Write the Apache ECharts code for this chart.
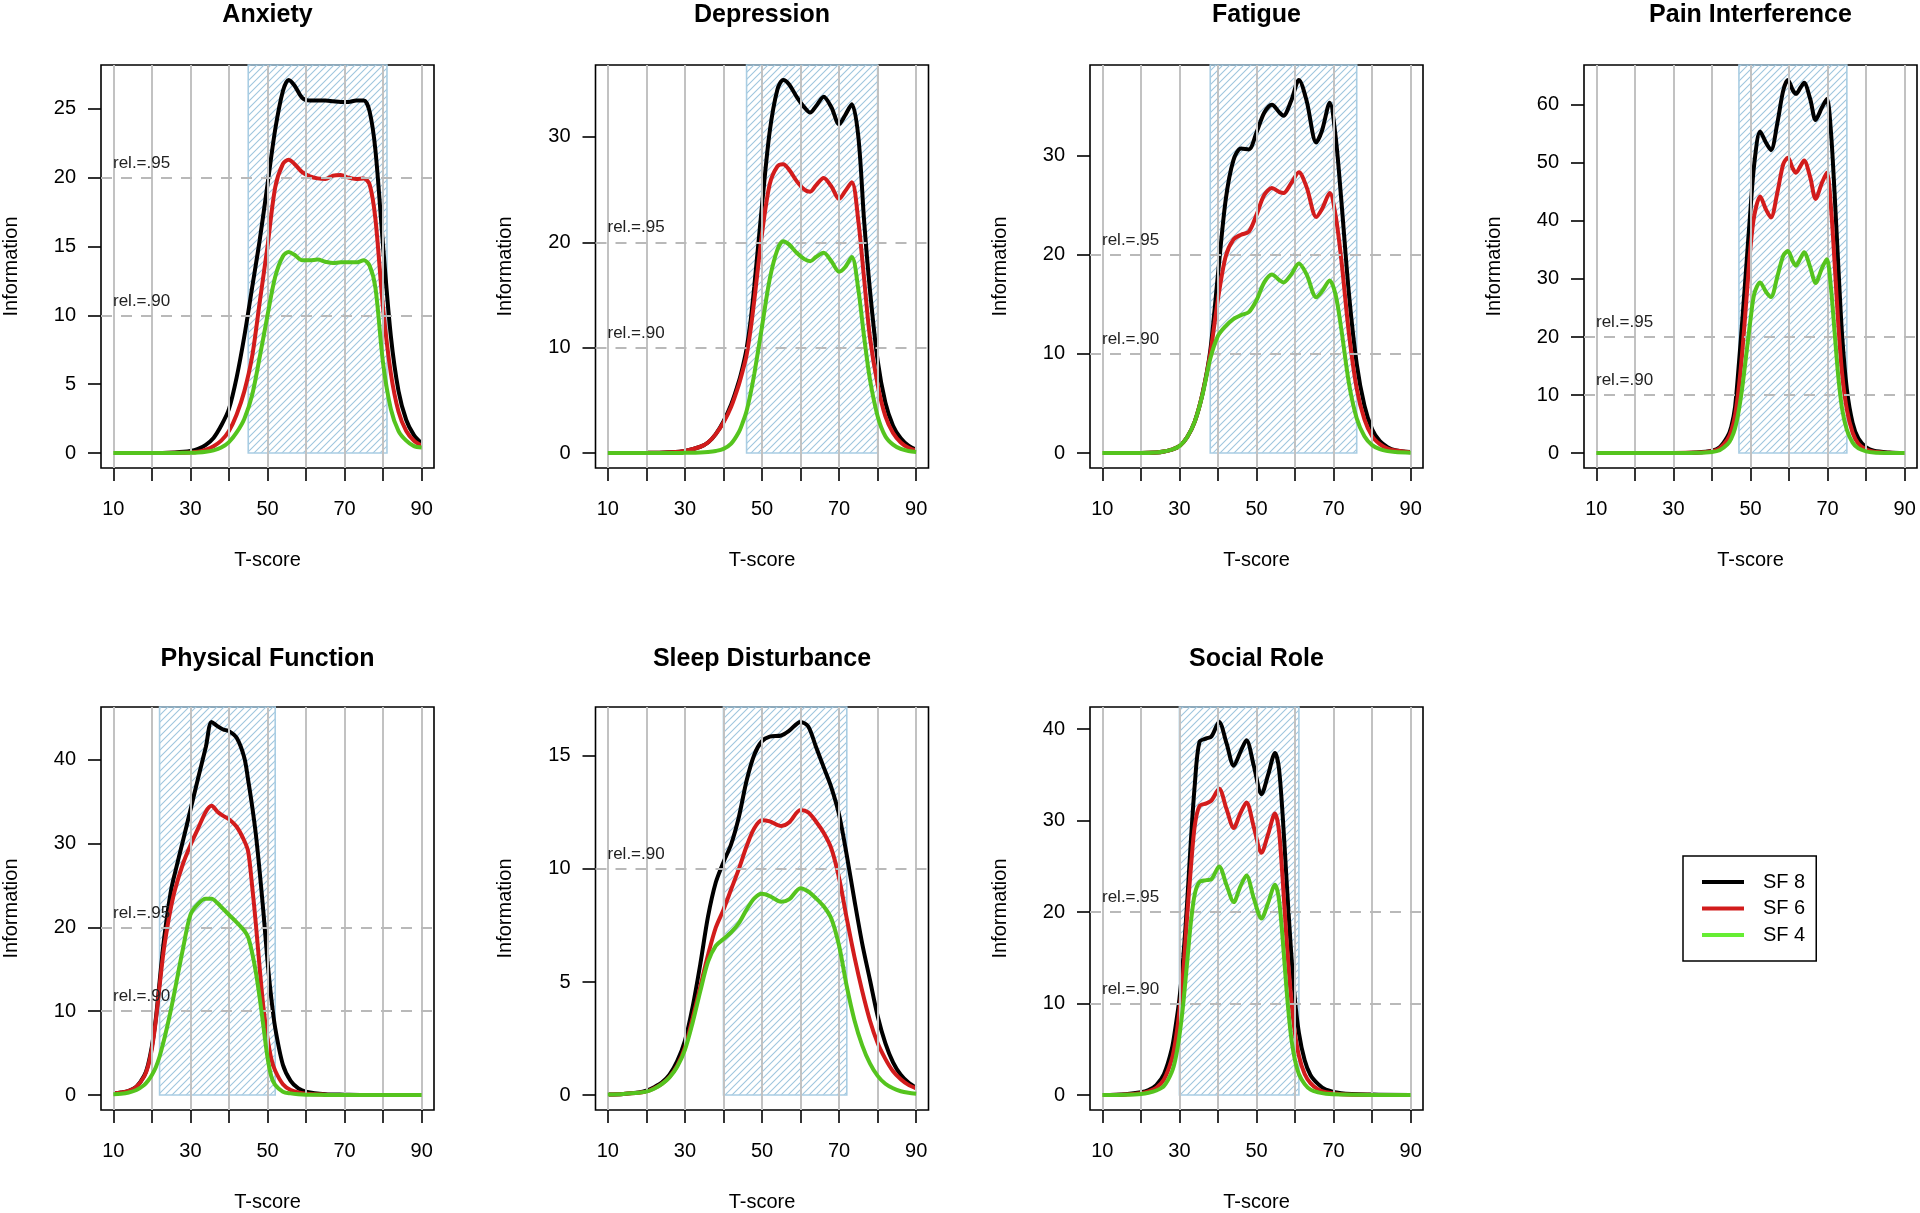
<!DOCTYPE html>
<html><head><meta charset="utf-8">
<script src="https://cdn.jsdelivr.net/npm/echarts@6/dist/echarts.min.js"></script>
<style>html,body{margin:0;padding:0;background:#fff}#c{width:1920px;height:1213px}</style>
</head><body><div id="c"></div>
<script>
// ---------------- DATA ----------------
const seriesNames = ['SF 8', 'SF 6', 'SF 4'];
const xTicks = [10, 20, 30, 40, 50, 60, 70, 80, 90];
const xTickLabels = [10, 30, 50, 70, 90];

const anxietyT   = [10,20,26,30,32,34,36,38,40,42,44,46,48,50,52,54,55.5,57,59,61,63,65,67,69,71,73,75,76.5,78,80,82,84,86,88,90];
const anxietySF8 = [0,0,0.05,0.15,0.3,0.6,1.1,2.0,3.2,5.5,8.5,12.0,15.5,19.5,23.5,26.3,27.1,26.7,25.8,25.6,25.6,25.6,25.55,25.5,25.5,25.6,25.6,24.8,22.0,15.0,8.5,4.5,2.4,1.3,0.7];
const anxietySF6 = [0,0,0.02,0.05,0.1,0.25,0.5,0.9,1.6,2.8,4.5,7.0,11.0,15.0,19.3,21.0,21.3,21.0,20.4,20.1,19.95,19.9,20.15,20.2,20.0,19.9,19.95,19.5,17.0,10.5,5.8,3.0,1.6,0.9,0.55];
const anxietySF4 = [0,0,0.01,0.03,0.05,0.1,0.2,0.4,0.8,1.5,2.5,4.2,7.0,10.0,12.8,14.3,14.6,14.4,14.0,14.0,14.05,13.9,13.8,13.85,13.85,13.85,14.0,13.6,12.0,6.5,3.2,1.6,0.9,0.5,0.4];
const anxietyBand = [45, 81];
const anxietyYTicks = [0, 5, 10, 15, 20, 25];

const depressionT   = [10,20,26,30,34,36,38,40,42,44,45,46,47,48,50,52,54,55.5,57,59,61,62.5,64,66,68,70,71.5,73.3,75,76.5,78,80,82,84,86,88,90];
const depressionSF8 = [0,0.02,0.08,0.2,0.6,1.0,1.8,3.0,4.6,6.8,8.2,9.9,12.4,15.8,23.5,30.5,34.5,35.4,35.0,33.8,32.8,32.3,32.9,33.8,32.8,31.2,32.0,33.1,30.0,22.0,15.5,8.8,4.8,2.6,1.4,0.7,0.3];
const depressionSF6 = [0,0.02,0.08,0.2,0.6,1.0,1.8,2.9,4.4,6.5,7.8,9.3,11.6,14.5,20.8,25.5,27.2,27.4,26.9,25.8,25.0,24.8,25.4,26.1,25.3,24.1,24.8,25.7,22.0,16.5,11.0,6.5,3.5,1.9,1.0,0.5,0.25];
const depressionSF4 = [0,0,0,0.02,0.05,0.1,0.2,0.4,0.9,2.0,2.9,4.0,5.6,7.5,12.0,16.5,19.3,20.1,19.8,19.0,18.4,18.2,18.6,19.0,18.2,17.2,17.6,18.6,15.5,11.0,7.0,3.5,1.6,0.8,0.4,0.2,0.1];
const depressionBand = [46, 80];
const depressionYTicks = [0, 10, 20, 30];

const fatigueT   = [10,20,24,26,28,30,32,34,36,38,40,42,44,46,48,50,52,54,56,57,59,61,63,65.5,67,69,70.5,72,74,76,78,80,82,84,86,90];
const fatigueSF8 = [0,0,0.05,0.15,0.35,0.7,1.6,3.2,6.0,10.3,18.0,25.5,29.5,30.7,30.6,32.3,34.3,35.1,34.3,34.0,35.5,37.6,35.5,31.3,32.5,35.3,32.0,25.5,16.0,9.0,4.8,2.4,1.2,0.6,0.3,0.1];
const fatigueSF6 = [0,0,0.05,0.15,0.35,0.7,1.6,3.2,6.0,10.0,15.5,19.8,21.5,22.0,22.3,24.0,26.0,26.7,26.3,26.2,27.2,28.3,26.8,23.8,24.6,26.2,24.0,19.5,12.0,6.5,3.4,1.7,0.9,0.45,0.25,0.08];
const fatigueSF4 = [0,0,0.05,0.15,0.35,0.7,1.6,3.2,5.9,9.5,11.8,12.8,13.5,13.9,14.2,15.4,17.2,18.0,17.4,17.2,18.0,19.1,18.0,15.7,16.3,17.4,16.0,12.5,7.0,3.5,1.7,0.8,0.4,0.2,0.1,0.03];
const fatigueBand = [38, 76];
const fatigueYTicks = [0, 10, 20, 30];

const painT   = [10,20,30,36,40,42,44,45,46,47,48,49,50,51,52.5,54,55.3,57,58.5,59.7,61,61.8,63,63.9,65.5,66.9,68.5,69.8,70.8,71.8,72.8,73.8,75,76.5,78,80,82,86,90];
const painSF8 = [0,0,0,0.1,0.4,1.0,2.8,4.5,8.0,15.5,24.0,33.0,42.0,50.0,55.4,53.5,52.2,57.0,62.5,64.3,62.5,61.9,63.0,63.8,61.0,57.4,59.5,61.0,56.0,45.0,32.0,20.0,11.0,5.2,2.5,1.0,0.4,0.1,0];
const painSF6 = [0,0,0,0.08,0.3,0.8,2.3,3.8,6.5,11.5,18.5,27.0,35.5,41.0,44.2,42.0,40.6,45.0,49.8,50.9,49.0,48.3,49.5,50.4,47.5,43.8,46.5,48.3,43.0,33.0,22.0,13.5,7.5,3.5,1.6,0.6,0.25,0.05,0];
const painSF4 = [0,0,0,0.05,0.2,0.5,1.5,2.5,4.3,7.5,12.0,17.5,23.0,27.5,29.4,27.8,26.9,30.5,34.0,34.8,33.0,32.3,33.6,34.6,32.0,29.3,31.8,33.4,29.0,21.0,13.0,7.5,4.0,1.8,0.8,0.3,0.1,0.02,0];
const painBand = [47, 75];
const painYTicks = [0, 10, 20, 30, 40, 50, 60];

const physicalT   = [10,12,14,16,18,19,20,21,22,23,24,25,26,28,30,32,34,35.5,37,38.5,40,42,44,45,46,47,48,49,50,51,52,54,56,58,60,65,70,80,90];
const physicalSF8 = [0.2,0.3,0.5,1.0,2.3,3.6,5.8,9.0,13.5,18.0,21.5,24.5,26.5,30.2,34.0,37.8,41.5,44.5,44.0,43.6,43.4,42.6,40.2,37.5,34.5,31.0,26.5,21.5,16.0,11.5,8.0,3.6,1.7,0.8,0.4,0.1,0.05,0,0];
const physicalSF6 = [0.2,0.3,0.5,1.0,2.2,3.4,5.5,8.8,13.0,17.0,20.0,22.5,24.5,27.5,29.8,31.8,33.8,34.5,33.8,33.3,32.9,32.0,30.3,29.0,25.0,20.3,15.0,10.2,6.8,4.3,2.9,1.3,0.6,0.3,0.15,0.05,0,0,0];
const physicalSF4 = [0.1,0.15,0.3,0.6,1.2,1.7,2.4,3.3,4.6,6.3,8.2,10.3,12.6,17.3,21.5,22.8,23.4,23.4,22.9,22.2,21.5,20.6,19.6,18.8,17.0,14.6,11.5,8.0,4.5,2.2,1.2,0.4,0.2,0.1,0.05,0.02,0,0,0];
const physicalBand = [22, 52];
const physicalYTicks = [0, 10, 20, 30, 40];

const sleepT   = [10,14,18,20,22,24,26,28,30,32,34,36,38,40,42,44,46,48,50,52,55,57,60,62,64,66,68,70,72,74,76,78,80,82,84,86,88,90];
const sleepSF8 = [0.02,0.05,0.12,0.2,0.35,0.55,0.9,1.5,2.4,3.9,5.8,7.9,9.4,10.3,11.1,12.3,13.9,15.05,15.65,15.85,15.9,16.1,16.5,16.3,15.4,14.5,13.6,12.4,10.6,8.6,6.7,5.1,3.5,2.3,1.45,0.9,0.55,0.32];
const sleepSF6 = [0.02,0.05,0.1,0.15,0.3,0.5,0.8,1.3,2.1,3.4,4.8,6.2,7.4,8.2,9.1,10.0,11.0,11.8,12.15,12.1,11.9,12.05,12.6,12.5,12.1,11.6,10.9,9.6,7.8,6.1,4.6,3.3,2.3,1.6,1.05,0.7,0.45,0.3];
const sleepSF4 = [0.02,0.05,0.1,0.15,0.28,0.48,0.78,1.25,2.0,3.2,4.6,5.9,6.6,6.9,7.2,7.6,8.2,8.7,8.9,8.8,8.55,8.65,9.15,9.0,8.7,8.35,7.8,6.6,4.8,3.3,2.2,1.4,0.85,0.5,0.3,0.17,0.1,0.06];
const sleepBand = [40, 72];
const sleepYTicks = [0, 5, 10, 15];

const socialT   = [10,16,20,22,24,26,28,29,30,31,32,33,34,35.2,37,38.3,40.3,42.2,44.1,45.8,47.4,49.3,51.3,53,54.8,55.8,56.8,57.8,58.8,59.8,61,62.5,64,66,68,72,80,90];
const socialSF8 = [0,0.1,0.3,0.55,1.1,2.3,5.0,7.5,10.5,15.0,21.0,28.0,34.0,38.6,39.0,39.2,40.8,38.5,36.0,37.5,38.8,36.0,32.9,35.0,37.4,35.8,30.5,23.5,16.8,11.2,6.8,3.8,2.2,1.2,0.6,0.2,0.05,0];
const socialSF6 = [0,0.07,0.2,0.4,0.8,1.7,3.9,6.0,9.2,13.5,19.5,25.0,29.5,31.6,31.9,32.2,33.5,31.3,29.2,30.8,32.0,29.3,26.5,28.5,30.8,29.0,23.5,17.0,11.5,7.3,4.3,2.3,1.3,0.6,0.3,0.1,0.02,0];
const socialSF4 = [0,0.04,0.12,0.25,0.5,1.0,2.5,4.0,6.5,10.0,14.5,19.0,22.0,23.3,23.5,23.6,25.0,23.0,21.1,22.8,24.0,21.5,19.3,21.0,23.0,21.5,17.0,11.5,7.0,4.2,2.3,1.2,0.6,0.3,0.15,0.05,0,0];
const socialBand = [30, 61];
const socialYTicks = [0, 10, 20, 30, 40];

const relLines = [{ value: 10, label: 'rel.=.90' }, { value: 20, label: 'rel.=.95' }];

// ---------------- PANELS ----------------
const panels = [
  { title: 'Anxiety', t: anxietyT, ys: [anxietySF8, anxietySF6, anxietySF4], band: anxietyBand, yTicks: anxietyYTicks },
  { title: 'Depression', t: depressionT, ys: [depressionSF8, depressionSF6, depressionSF4], band: depressionBand, yTicks: depressionYTicks },
  { title: 'Fatigue', t: fatigueT, ys: [fatigueSF8, fatigueSF6, fatigueSF4], band: fatigueBand, yTicks: fatigueYTicks },
  { title: 'Pain Interference', t: painT, ys: [painSF8, painSF6, painSF4], band: painBand, yTicks: painYTicks },
  { title: 'Physical Function', t: physicalT, ys: [physicalSF8, physicalSF6, physicalSF4], band: physicalBand, yTicks: physicalYTicks },
  { title: 'Sleep Disturbance', t: sleepT, ys: [sleepSF8, sleepSF6, sleepSF4], band: sleepBand, yTicks: sleepYTicks },
  { title: 'Social Role', t: socialT, ys: [socialSF8, socialSF6, socialSF4], band: socialBand, yTicks: socialYTicks }
];

const lineColors = ['#000000', '#d21c1c', '#55c41e'];
const legendColors = ['#000000', '#d21c1c', '#66ee33'];
const FONT = '"Liberation Sans", Arial, Helvetica, sans-serif';
const colLeft = [101, 595.5, 1090, 1584];
const rowTop = [65, 707];
const gridW = 333, gridH = 403;

function makeHatch() {
  const s = 7;
  const c = document.createElement('canvas');
  c.width = s; c.height = s;
  const g = c.getContext('2d');
  g.strokeStyle = '#9fc6de';
  g.lineWidth = 1.1;
  g.beginPath();
  g.moveTo(-1, s + 1); g.lineTo(s + 1, -1);
  g.moveTo(-s / 2 - 1, s / 2 + 1); g.lineTo(s / 2 + 1, -s / 2 - 1);
  g.moveTo(s / 2 - 1, s * 1.5 + 1); g.lineTo(s * 1.5 + 1, s / 2 - 1);
  g.stroke();
  return c;
}
const hatch = makeHatch();

const option = {
  animation: false,
  backgroundColor: '#fff',
  title: [], grid: [], xAxis: [], yAxis: [], series: [],
  legend: {
    left: 1683, top: 856, orient: 'vertical',
    padding: [16, 11, 16, 19],
    borderColor: '#000', borderWidth: 1.5,
    icon: 'rect',
    itemWidth: 42, itemHeight: 4, itemGap: 6.5,
    textStyle: { fontSize: 20, color: '#000', fontFamily: FONT, padding: [0, 0, 0, 14] },
    data: seriesNames.map((n, k) => ({ name: n, itemStyle: { color: legendColors[k], borderWidth: 0 } }))
  }
};

panels.forEach((p, i) => {
  const col = i % 4, row = Math.floor(i / 4);
  const left = colLeft[col], top = rowTop[row];
  const all = p.ys.flat();
  const dmax = Math.max(...all), dmin = Math.min(0, ...all);
  const ext = (dmax - dmin) * 0.04;
  const ymin = dmin - ext, ymax = dmax + ext;
  const xmin = 10 - 80 * 0.04, xmax = 90 + 80 * 0.04;

  option.title.push({
    text: p.title, left: left + gridW / 2, top: top - 62 + row * 2, textAlign: 'center', padding: 0,
    textStyle: { fontSize: 25, fontWeight: 'bold', color: '#000', fontFamily: FONT }
  });
  option.grid.push({ left: left, top: top, width: gridW, height: gridH, show: true,
    borderColor: '#000', borderWidth: 1.6, backgroundColor: 'transparent' });
  option.xAxis.push({
    gridIndex: i, type: 'value', min: xmin, max: xmax,
    axisLine: { show: false, onZero: false },
    axisTick: { show: true, length: 13, lineStyle: { color: '#000', width: 1.6 }, customValues: xTicks },
    axisLabel: { customValues: xTickLabels, margin: 31, fontSize: 20, color: '#000', fontFamily: FONT },
    splitLine: { show: false },
    name: 'T-score', nameLocation: 'middle', nameGap: 82,
    nameTextStyle: { fontSize: 20, color: '#000', fontFamily: FONT }
  });
  option.yAxis.push({
    gridIndex: i, type: 'value', min: ymin, max: ymax,
    axisLine: { show: false, onZero: false },
    axisTick: { show: true, length: 13, lineStyle: { color: '#000', width: 1.6 }, customValues: p.yTicks },
    axisLabel: { customValues: p.yTicks, margin: 25, fontSize: 20, color: '#000', fontFamily: FONT },
    splitLine: { show: false },
    name: 'Information', nameLocation: 'middle', nameGap: 80,
    nameTextStyle: { fontSize: 20, color: '#000', fontFamily: FONT }
  });

  const vLines = xTicks.map(v => ({ xAxis: v, lineStyle: { color: '#c2c2c2', width: 2, type: 'solid' }, label: { show: false } }));
  const hLines = relLines.filter(r => r.value < ymax).map(r => ({
    yAxis: r.value,
    lineStyle: { color: '#b9b9b9', width: 2, type: [11, 9] },
    label: { show: true, formatter: r.label, position: 'insideStartTop', distance: [12, 6],
      fontSize: 17, color: '#222', fontFamily: FONT }
  }));

  option.series.push({
    type: 'line', name: '_ref' + i, xAxisIndex: i, yAxisIndex: i, data: [[10, 0]],
    symbol: 'none', lineStyle: { opacity: 0 }, silent: true, z: 1, legendHoverLink: false,
    markArea: {
      silent: true,
      itemStyle: { color: { image: hatch, repeat: 'repeat' }, borderColor: '#a9cde3', borderWidth: 1.6 },
      data: [[{ xAxis: p.band[0], yAxis: 0 }, { xAxis: p.band[1], yAxis: ymax }]]
    },
    markLine: { silent: true, symbol: ['none', 'none'], animation: false, data: vLines.concat(hLines) }
  });

  p.ys.forEach((ys, k) => {
    option.series.push({
      type: 'line', name: seriesNames[k], xAxisIndex: i, yAxisIndex: i,
      data: p.t.map((x, j) => [x, ys[j]]),
      symbol: 'none', smooth: 0.3, z: 3 + k,
      lineStyle: { color: lineColors[k], width: 4 },
      itemStyle: { color: lineColors[k] }
    });
  });
});

const chart = echarts.init(document.getElementById('c'), null, { renderer: 'canvas' });
chart.setOption(option);
</script>
</body></html>
